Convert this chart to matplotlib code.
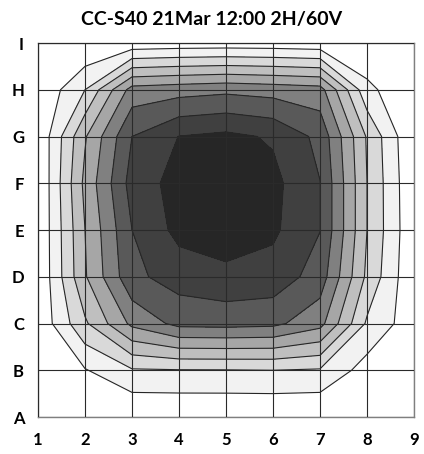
import numpy as np
import matplotlib
matplotlib.use("Agg")
import matplotlib.pyplot as plt

title = "CC-S40 21Mar 12:00 2H/60V"
x_labels = ["1", "2", "3", "4", "5", "6", "7", "8", "9"]
y_labels = ["A", "B", "C", "D", "E", "F", "G", "H", "I"]

# measured intensity at each grid node, rows A..I, columns 1..9
row_A = [0.00, 0.00, 0.00, 0.00, 0.00, 0.00, 0.00, 0.00, 0.00]
row_B = [0.00, 0.93, 1.90, 1.95, 1.96, 2.00, 1.90, 0.56, 0.00]
row_C = [0.20, 2.84, 5.24, 6.30, 6.35, 6.25, 5.35, 1.85, 0.38]
row_D = [0.05, 3.90, 6.76, 7.44, 7.74, 7.60, 6.55, 2.80, 0.10]
row_E = [0.05, 4.00, 7.00, 8.30, 8.55, 8.18, 7.02, 3.00, 0.15]
row_F = [0.00, 4.25, 7.40, 8.40, 8.70, 8.28, 7.02, 3.00, 0.10]
row_G = [0.10, 3.90, 7.00, 8.02, 8.24, 7.88, 6.72, 2.90, 0.00]
row_H = [0.08, 2.00, 5.40, 5.60, 5.77, 5.60, 5.40, 1.30, 0.00]
row_I = [0.00, 0.00, 0.30, 0.40, 0.43, 0.40, 0.30, 0.00, 0.00]

band_edges = [-1, 1, 2, 3, 4, 5, 6, 7, 8, 10]
band_colors = ["#ffffff", "#f2f2f2", "#d9d9d9", "#bfbfbf", "#a6a6a6",
               "#808080", "#595959", "#404040", "#262626"]

Z = np.array([row_A, row_B, row_C, row_D, row_E, row_F, row_G, row_H, row_I])
xs = np.arange(1, len(x_labels) + 1)
ys = np.arange(1, len(y_labels) + 1)
X, Y = np.meshgrid(xs, ys)

fig = plt.figure(figsize=(4.24, 4.54), dpi=100)
ax = fig.add_axes([38 / 424, 37 / 454, 376 / 424, 374 / 454])

ax.contourf(X, Y, Z, levels=band_edges, colors=band_colors)
ax.contour(X, Y, Z, levels=band_edges[1:-1], colors="#262626", linewidths=0.8)

ax.set_xlim(1, 9)
ax.set_ylim(1, 9)
ax.set_xticks(xs)
ax.set_yticks(ys)
ax.set_xticklabels(x_labels, fontfamily="Lato", fontweight="bold", fontsize=12)
ax.set_yticklabels(y_labels, fontfamily="Lato", fontweight="bold", fontsize=12)
ax.tick_params(length=0, pad=10)
ax.tick_params(axis="x", pad=11)
ax.grid(True, color="#2a2a2a", linewidth=0.8)
ax.set_axisbelow(False)
for s in ax.spines.values():
    s.set_color("#7f7f7f")
    s.set_linewidth(1.0)

fig.text(0.5, 1 - 19 / 454, title, ha="center", va="center",
         fontfamily="Lato", fontweight="bold", fontsize=14)

fig.savefig("out.png", dpi=100)
